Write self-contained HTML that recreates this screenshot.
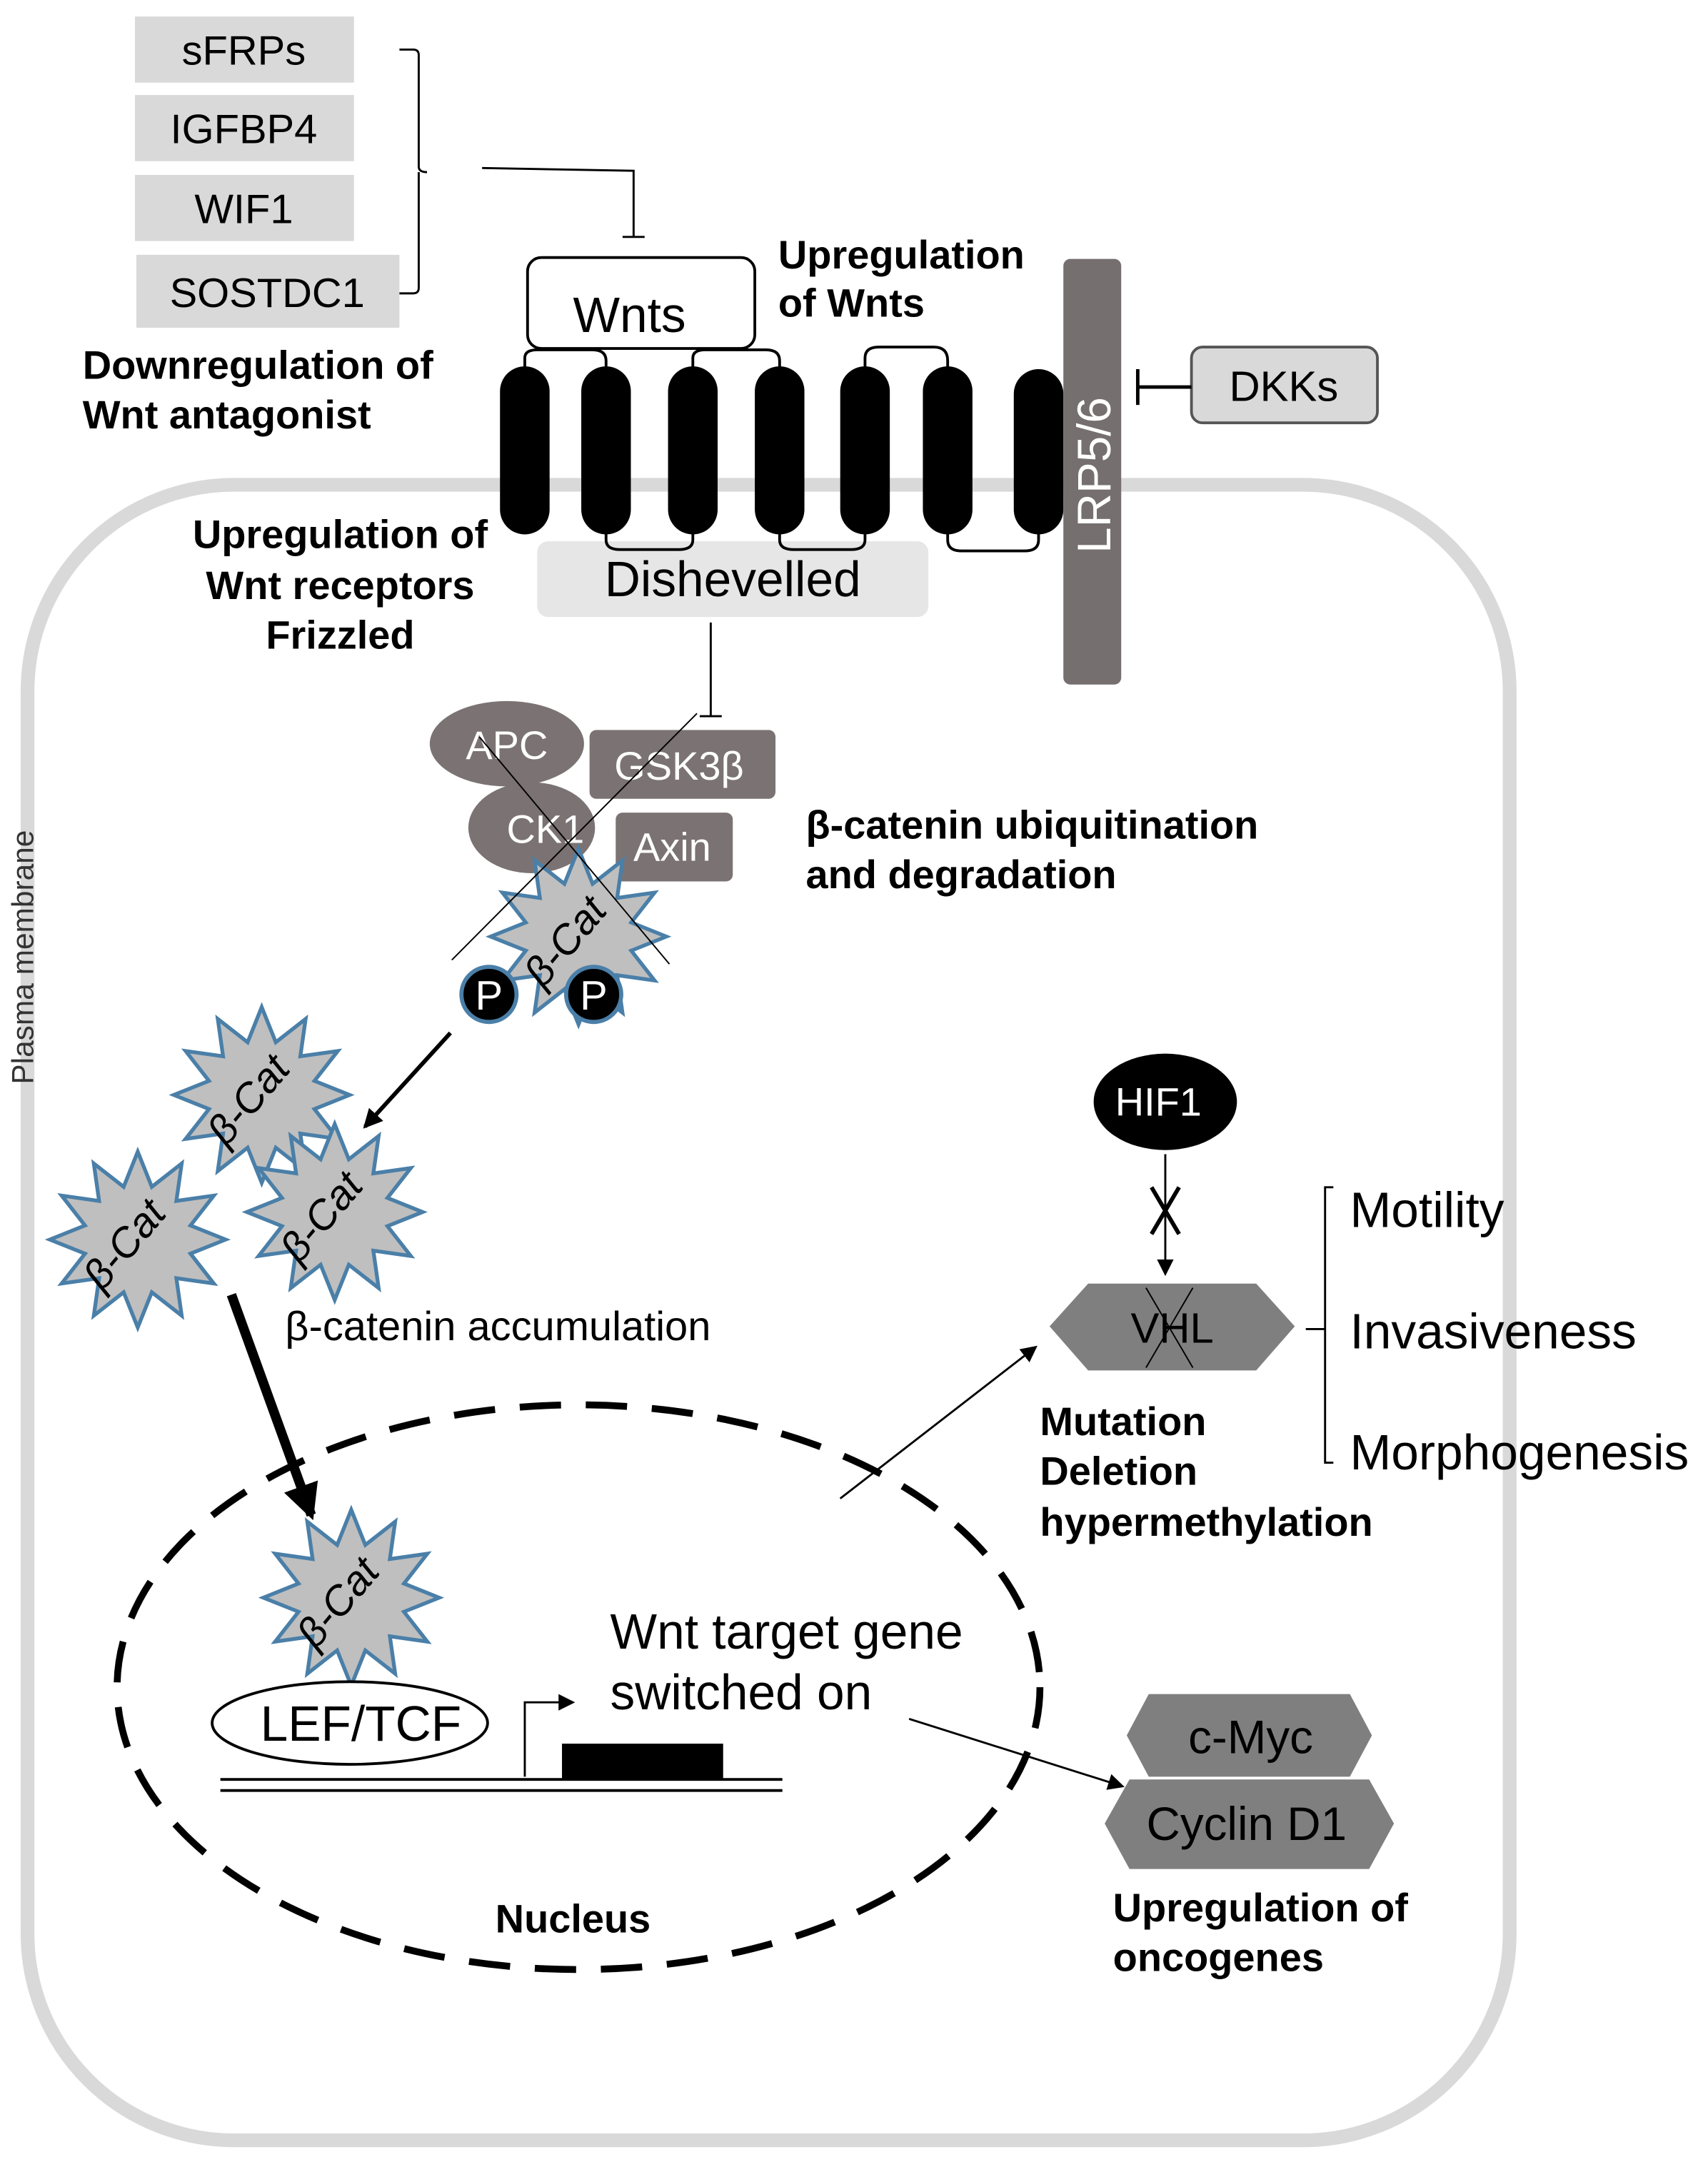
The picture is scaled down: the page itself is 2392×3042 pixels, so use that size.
<!DOCTYPE html>
<html><head><meta charset="utf-8"><style>
html,body{margin:0;padding:0;background:#fff}
svg{display:block}
text{font-family:"Liberation Sans",Arial,sans-serif}
.b{font-weight:bold;font-size:29px}
</style></head><body>
<svg width="2392" height="3042" viewBox="0 0 1240 1577" preserveAspectRatio="none" xmlns="http://www.w3.org/2000/svg">
<defs>
<polygon id="st" points="58,0 34.8,9.3 50.2,29 25.5,25.5 29,50.2 9.3,34.8 0,58 -9.3,34.8 -29,50.2 -25.5,25.5 -50.2,29 -34.8,9.3 -58,0 -34.8,-9.3 -50.2,-29 -25.5,-25.5 -29,-50.2 -9.3,-34.8 0,-58 9.3,-34.8 29,-50.2 25.5,-25.5 50.2,-29 34.8,-9.3" fill="#bfbfbf" stroke="#4a7fa8" stroke-width="2.5"/>
<marker id="ah" markerWidth="8" markerHeight="8" refX="7" refY="4" orient="auto" markerUnits="strokeWidth"><path d="M0,0 L8,4 L0,8 z" fill="#000"/></marker>
<marker id="ah2" markerWidth="14" markerHeight="14" refX="12" refY="7" orient="auto" markerUnits="userSpaceOnUse"><path d="M0,0 L14,7 L0,14 z" fill="#000"/></marker>
<marker id="ah3" markerWidth="26" markerHeight="26" refX="22" refY="13" orient="auto" markerUnits="userSpaceOnUse"><path d="M0,0 L26,13 L0,26 z" fill="#000"/></marker>
</defs>

<rect x="20" y="352" width="1076" height="1202" rx="150" fill="none" stroke="#d9d9d9" stroke-width="10"/>
<text x="24" y="695" font-size="22" fill="#333" transform="rotate(-90 24 695)" text-anchor="middle">Plasma membrane</text>

<rect x="98" y="12" width="159" height="48" fill="#d9d9d9"/>
<text x="177" y="47" font-size="30" text-anchor="middle">sFRPs</text>
<rect x="98" y="69" width="159" height="48" fill="#d9d9d9"/>
<text x="177" y="104" font-size="30" text-anchor="middle">IGFBP4</text>
<rect x="98" y="127" width="159" height="48" fill="#d9d9d9"/>
<text x="177" y="162" font-size="30" text-anchor="middle">WIF1</text>
<rect x="99" y="185" width="191" height="53" fill="#d9d9d9"/>
<text x="194" y="223" font-size="30" text-anchor="middle">SOSTDC1</text>
<path d="M290,36 H300 Q304,36 304,40 V121 Q304,125 310,125 M304,125 V209 Q304,213 300,213 H290" fill="none" stroke="#000" stroke-width="1.5"/>
<path d="M350,122 L460,124 V172 M452,172 H468" fill="none" stroke="#000" stroke-width="1.5"/>
<text x="60" y="275" class="b">Downregulation of</text>
<text x="60" y="311" class="b">Wnt antagonist</text>

<rect x="383" y="187" width="165" height="66" rx="10" fill="#fff" stroke="#000" stroke-width="2"/>
<text x="457" y="241" font-size="36" text-anchor="middle">Wnts</text>
<text x="565" y="195" class="b">Upregulation</text>
<text x="565" y="230" class="b">of Wnts</text>

<rect x="390" y="393" width="284" height="55" rx="8" fill="#e6e6e6"/>
<text x="532" y="433" font-size="36" text-anchor="middle">Dishevelled</text>

<g fill="none" stroke="#000" stroke-width="2">
<path d="M381,270 V260 Q381,254 390,254 H430 Q440,254 440,262 V270"/>
<path d="M503,270 V260 Q503,254 512,254 H556 Q566,254 566,262 V270"/>
<path d="M628,270 V260 Q628,252 638,252 H678 Q688,252 688,262 V270"/>
<path d="M440,384 V392 Q440,399 450,399 H493 Q503,399 503,392 V384"/>
<path d="M566,384 V392 Q566,399 576,399 H618 Q628,399 628,392 V384"/>
<path d="M688,384 V392 Q688,400 698,400 H744 Q754,400 754,392 V384"/>
</g>
<g fill="#000">
<rect x="363" y="266" width="36" height="122" rx="18"/>
<rect x="422" y="266" width="36" height="122" rx="18"/>
<rect x="485" y="266" width="36" height="122" rx="18"/>
<rect x="548" y="266" width="36" height="122" rx="18"/>
<rect x="610" y="266" width="36" height="122" rx="18"/>
<rect x="670" y="266" width="36" height="122" rx="18"/>
<rect x="736" y="268" width="36" height="120" rx="18"/>
</g>

<rect x="772" y="188" width="42" height="309" rx="5" fill="#756f6f"/>
<text x="806" y="345" font-size="34" fill="#fff" text-anchor="middle" transform="rotate(-90 806 345)">LRP5/6</text>
<rect x="865" y="252" width="135" height="55" rx="8" fill="#d9d9d9" stroke="#555" stroke-width="2"/>
<text x="932" y="291" font-size="31" text-anchor="middle">DKKs</text>
<path d="M865,281 H826 M826,268 V294" stroke="#000" stroke-width="2.5" fill="none"/>

<text x="247" y="398" class="b" text-anchor="middle">Upregulation of</text>
<text x="247" y="435" class="b" text-anchor="middle">Wnt receptors</text>
<text x="247" y="471" class="b" text-anchor="middle">Frizzled</text>

<path d="M516,452 V520 M508,520 H524" stroke="#000" stroke-width="1.5" fill="none"/>

<ellipse cx="368" cy="540" rx="56" ry="31" fill="#7b7373"/>
<rect x="428" y="530" width="135" height="50" rx="5" fill="#7b7373"/>
<ellipse cx="386" cy="601" rx="46" ry="33" fill="#7b7373"/>
<rect x="447" y="590" width="85" height="50" rx="5" fill="#7b7373"/>
<g fill="#fff" font-size="29" text-anchor="middle">
<text x="368" y="551">APC</text>
<text x="493" y="566">GSK3β</text>
<text x="396" y="612">CK1</text>
<text x="488" y="625">Axin</text>
</g>
<use href="#st" transform="translate(420,680) scale(1.1)"/>
<text font-size="30" font-style="italic" text-anchor="middle" transform="translate(418,690) rotate(-50)">β-Cat</text>
<path d="M328,697 L506,518 M348,535 L486,700" stroke="#000" stroke-width="1" fill="none"/>
<circle cx="355" cy="722" r="20" fill="#000" stroke="#4a7fa8" stroke-width="3"/>
<circle cx="431" cy="722" r="20" fill="#000" stroke="#4a7fa8" stroke-width="3"/>
<text x="355" y="733" font-size="30" fill="#fff" text-anchor="middle">P</text>
<text x="431" y="733" font-size="30" fill="#fff" text-anchor="middle">P</text>
<text x="585" y="609" class="b">β-catenin ubiquitination</text>
<text x="585" y="645" class="b">and degradation</text>

<path d="M327,750 L265,818" stroke="#000" stroke-width="3" marker-end="url(#ah2)"/>

<use href="#st" transform="translate(190,795) scale(1.1)"/>
<text font-size="30" font-style="italic" text-anchor="middle" transform="translate(188,805) rotate(-50)">β-Cat</text>
<use href="#st" transform="translate(100,900) scale(1.1)"/>
<text font-size="30" font-style="italic" text-anchor="middle" transform="translate(98,910) rotate(-50)">β-Cat</text>
<use href="#st" transform="translate(243,880) scale(1.1)"/>
<text font-size="30" font-style="italic" text-anchor="middle" transform="translate(241,890) rotate(-50)">β-Cat</text>
<text x="207" y="973" font-size="30">β-catenin accumulation</text>

<path d="M168,940 L226,1100" stroke="#000" stroke-width="7" marker-end="url(#ah3)"/>

<ellipse cx="420" cy="1225" rx="335" ry="205" fill="none" stroke="#000" stroke-width="5" stroke-dasharray="30 18"/>
<use href="#st" transform="translate(255,1160) scale(1.1)"/>
<text font-size="30" font-style="italic" text-anchor="middle" transform="translate(253,1170) rotate(-50)">β-Cat</text>
<ellipse cx="254" cy="1251" rx="100" ry="30" fill="#fff" stroke="#000" stroke-width="2"/>
<text x="262" y="1264" font-size="36" text-anchor="middle">LEF/TCF</text>
<path d="M160,1292 H568 M160,1300 H568" stroke="#000" stroke-width="2"/>
<rect x="408" y="1266" width="117" height="26" fill="#000"/>
<path d="M381,1290 V1236 H416" stroke="#000" stroke-width="1.5" fill="none" marker-end="url(#ah)"/>
<text x="443" y="1197" font-size="36">Wnt target gene</text>
<text x="443" y="1241" font-size="36">switched on</text>
<text x="416" y="1403" class="b" text-anchor="middle">Nucleus</text>

<path d="M660,1248 L815,1297" stroke="#000" stroke-width="1.5" marker-end="url(#ah)"/>
<polygon points="834,1230 980,1230 996,1260 980,1290 834,1290 818,1260" fill="#7f7f7f"/>
<polygon points="820,1292 994,1292 1012,1324 994,1357 820,1357 802,1324" fill="#7f7f7f"/>
<text x="908" y="1273" font-size="34" text-anchor="middle">c-Myc</text>
<text x="905" y="1336" font-size="34" text-anchor="middle">Cyclin D1</text>
<text x="808" y="1395" class="b">Upregulation of</text>
<text x="808" y="1431" class="b">oncogenes</text>

<path d="M610,1088 L752,978" stroke="#000" stroke-width="1.5" marker-end="url(#ah)"/>
<polygon points="790,932 912,932 940,963 912,995 790,995 762,963" fill="#7f7f7f"/>
<text x="851" y="975" font-size="31" text-anchor="middle">VHL</text>
<path d="M832,935 L866,993 M866,935 L832,993" stroke="#000" stroke-width="1"/>
<ellipse cx="846" cy="800" rx="52" ry="35" fill="#000"/>
<text x="841" y="810" font-size="29" fill="#fff" text-anchor="middle">HIF1</text>
<path d="M846,838 V925" stroke="#000" stroke-width="1.5" marker-end="url(#ah)"/>
<path d="M836,862 L856,896 M856,862 L836,896" stroke="#000" stroke-width="3"/>
<path d="M968,862 H962 V1062 H968 M962,965 H948" stroke="#000" stroke-width="1.5" fill="none"/>
<text x="980" y="891" font-size="36">Motility</text>
<text x="980" y="979" font-size="36">Invasiveness</text>
<text x="980" y="1067" font-size="36">Morphogenesis</text>
<text x="755" y="1042" class="b">Mutation</text>
<text x="755" y="1078" class="b">Deletion</text>
<text x="755" y="1115" class="b">hypermethylation</text>
</svg>
</body></html>
